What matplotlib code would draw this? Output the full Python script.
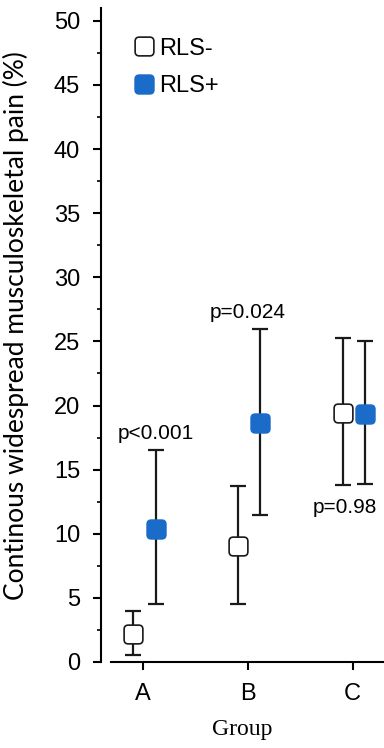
import numpy as np
import matplotlib.pyplot as plt
from matplotlib.patches import FancyBboxPatch

groups = ["A", "B", "C"]
rls_neg = [2.2, 9.05, 19.4]
rls_neg_lo = [0.55, 4.5, 13.8]
rls_neg_hi = [4.0, 13.7, 25.25]
rls_pos = [10.35, 18.65, 19.35]
rls_pos_lo = [4.5, 11.45, 13.9]
rls_pos_hi = [16.5, 25.95, 25.0]
p_labels = ["p<0.001", "p=0.024", "p=0.98"]

azul = "#1a6cc8"
fig = plt.figure(figsize=(3.84, 7.48), dpi=100)
ax = fig.add_axes([101 / 384, 86 / 748, 283 / 384, 654 / 748])

# quadrado com cantos arredondados
caixa = FancyBboxPatch((-0.5, -0.5), 1, 1, boxstyle="round,pad=0,rounding_size=0.22")
marcador = caixa.get_path()

x = np.arange(len(groups))
x_neg = x - 0.09
x_pos = x + 0.12

def desenha(xs, ys, lo, hi, cor, label):
    ys = np.array(ys)
    err = [ys - np.array(lo), np.array(hi) - ys]
    ax.errorbar(xs, ys, yerr=err, fmt="none", ecolor="#1a1a1a", elinewidth=1.6,
                capsize=6, capthick=1.6, zorder=2)
    ax.plot(xs, ys, ls="none", marker=marcador, ms=13.5, mfc=cor,
            mec="#1a1a1a" if cor == "white" else cor, mew=1.2, zorder=3, label=label)

desenha(x_neg, rls_neg, rls_neg_lo, rls_neg_hi, "white", "RLS-")
desenha(x_pos, rls_pos, rls_pos_lo, rls_pos_hi, azul, "RLS+")

# p-values
fp = dict(fontsize=15, family="Liberation Sans", ha="center")
ax.text(x_pos[0], rls_pos_hi[0] + 0.6, p_labels[0], va="bottom", **fp)
ax.text(x[1], rls_pos_hi[1] + 0.6, p_labels[1], va="bottom", **fp)
ax.text(x_neg[2] + 0.02, rls_neg_lo[2] - 1.0, p_labels[2], va="top", **fp)

ax.set_xlim(-0.4, 2.3)
ax.set_ylim(0, 51)
ax.set_yticks(np.arange(0, 51, 5))
ax.set_yticks(np.arange(2.5, 50, 5), minor=True)
ax.set_xticks(x)
ax.set_xticklabels(groups)
for s in ["top", "right"]:
    ax.spines[s].set_visible(False)
ax.spines["left"].set_linewidth(1.5)
ax.spines["bottom"].set_linewidth(1.5)
ax.spines["bottom"].set_bounds(-0.305, 2.3)
ax.spines["left"].set_bounds(0, 51)
ax.tick_params(axis="both", which="major", length=6, width=1.5, labelsize=17)
ax.tick_params(axis="y", which="major", pad=9)
ax.tick_params(axis="y", which="minor", length=3, width=1.2)
ax.tick_params(axis="x", pad=9)
for t in ax.get_xticklabels() + ax.get_yticklabels():
    t.set_family("Liberation Sans")

ax.set_ylabel("Continous widespread musculoskeletal pain (%)", fontsize=19, family="Lato")
ax.yaxis.set_label_coords(-0.255, 0.515)
ax.set_xlabel("Group", fontsize=17, family="Liberation Serif", labelpad=10)

leg = ax.legend(loc="upper left", bbox_to_anchor=(0.085, 0.969), frameon=False,
                handlelength=0.8, handletextpad=0.25, labelspacing=0.65, borderaxespad=0,
                prop={"family": "Liberation Sans", "size": 17})

fig.savefig("out.png", dpi=100)
